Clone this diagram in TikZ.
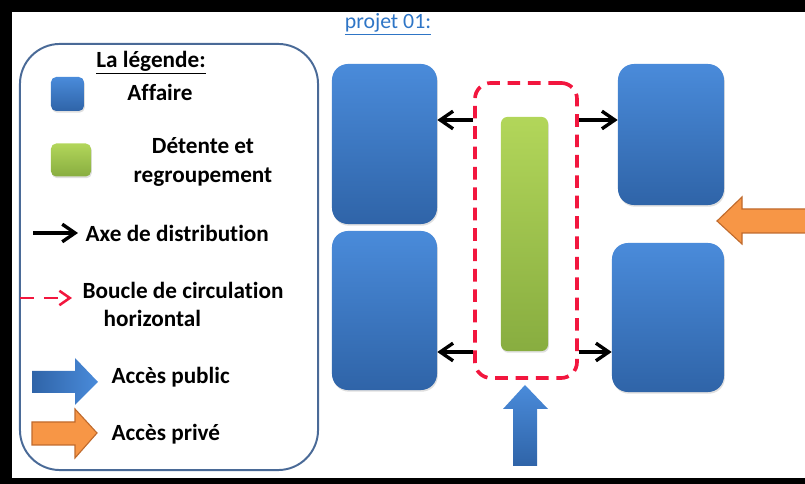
\documentclass[tikz,border=0pt]{standalone}
\usepackage{fontspec}
\setmainfont{Carlito}[Ligatures={NoCommon}]
\usetikzlibrary{arrows.meta,positioning,shadows}
\definecolor{affairetop}{HTML}{4A8BDA}
\definecolor{affairebot}{HTML}{2F64A8}
\definecolor{detentetop}{HTML}{B2D65A}
\definecolor{detentebot}{HTML}{88AD40}
\definecolor{boucle}{HTML}{F2163E}
\definecolor{prive}{HTML}{F79646}
\definecolor{privebord}{HTML}{C06A2C}
\definecolor{cadre}{HTML}{4A6A97}
\definecolor{lien}{HTML}{2E75C6}

\begin{document}
\begin{tikzpicture}[x=0.025cm,y=-0.025cm,
  affaire/.style={draw=none,inner sep=0pt,rounded corners=4mm,
    top color=affairetop,bottom color=affairebot,
    drop shadow={shadow xshift=0.6pt,shadow yshift=-1.2pt,opacity=0.25}},
  detente/.style={draw=none,inner sep=0pt,rounded corners=1.6mm,
    top color=detentetop,bottom color=detentebot,
    drop shadow={shadow xshift=0.6pt,shadow yshift=-1.2pt,opacity=0.25}},
  txt/.style={font=\fontsize{16.5}{20.5}\selectfont\bfseries,inner sep=1pt},
  axe/.style={line width=2.6pt,-{Straight Barb[length=3.2mm,width=4.4mm,line width=2.4pt]}},
  circ/.style={boucle,line width=2.6pt,dash pattern=on 9pt off 5.5pt}]
  \useasboundingbox (0,0) rectangle (805,484);
  \clip (0,0) rectangle (805,484);
  % cadre noir
  \fill[black] (0,0) rectangle (805,12);
  \fill[black] (0,0) rectangle (12,484);
  \fill[black] (0,478) rectangle (805,484);
  \node[font=\fontsize{15.5}{18}\selectfont,text=lien] (titre) at (388,24) {\underline{projet 01:}};

  % legende
  \node[draw=cadre,line width=1.4pt,rounded corners=1cm,minimum width=7.45cm,
    minimum height=10.65cm] (legende) at (169,257) {};
  \node[txt] (ltitre) at (151,63) {\underline{La légende:}};
  \node[affaire,rounded corners=1.3mm,minimum width=0.825cm,minimum height=0.85cm] (laffaire) at (67.5,94) {};
  \node[txt] (taffaire) at (160,92) {Affaire};
  \node[detente,rounded corners=1.3mm,minimum width=1cm,minimum height=0.825cm] (ldetente) at (71,160) {};
  \node[txt,align=center] (tdetente) at (203,162) {Détente et\\regroupement};
  \coordinate (laxe) at (33,233);
  \node[txt,anchor=west] (taxe) at (84,233) {Axe de distribution};
  \draw[axe,shorten >=0.15cm] (laxe) -- (taxe.west);
  \coordinate (lcirc) at (20,298);
  \coordinate (lcircb) at (72,298);
  \draw[circ,line width=2pt,dash pattern=on 10pt off 7pt,
    -{Straight Barb[length=2.6mm,width=3.6mm,line width=1.8pt]}] (lcirc) -- (lcircb);
  \node[txt,anchor=west] (tcirc) at (81,290) {Boucle de circulation};
  \node[txt,anchor=west] (tcirc2) at (102,318) {horizontal};
  \shade[left color=affairebot,right color=affairetop]
    (32,371) -- (75,371) -- (75,358) -- (98,382) -- (75,405) -- (75,393) -- (32,393) -- cycle;
  \node[txt,anchor=west] (tpublic) at (110,377) {Accès public};
  \filldraw[fill=prive,draw=privebord,line width=0.8pt]
    (32,422) -- (75,422) -- (75,409) -- (97,433) -- (75,458) -- (75,445) -- (32,445) -- cycle;
  \node[txt,anchor=west] (tprive) at (110,434) {Accès privé};

  % plan
  \node[affaire,minimum width=2.625cm,minimum height=4cm] (bureau1) at (384.5,144) {};
  \node[affaire,minimum width=2.625cm,minimum height=3.975cm] (bureau2) at (384.5,310.5) {};
  \node[affaire,minimum width=2.65cm,minimum height=3.525cm] (bureau3) at (671,134.5) {};
  \node[affaire,minimum width=2.8cm,minimum height=3.725cm] (bureau4) at (668,317.5) {};
  \node[draw,circ,rounded corners=4mm,minimum width=2.55cm,minimum height=7.375cm] (boucle) at (526,230.5) {};
  \node[detente,minimum width=1.175cm,minimum height=5.85cm] (detente) at (524.5,234) {};
  \coordinate (haut) at (0,120);
  \coordinate (bas) at (0,352);
  \draw[axe] (boucle.west |- haut) -- (bureau1.east |- haut);
  \draw[axe] (boucle.east |- haut) -- (bureau3.west |- haut);
  \draw[axe] (boucle.west |- bas) -- (bureau2.east |- bas);
  \draw[axe] (boucle.east |- bas) -- (bureau4.west |- bas);
  % acces
  \shade[top color=affairetop,bottom color=affairebot]
    (513,466) -- (537,466) -- (537,409) -- (548,409) -- (525,385) -- (503,409) -- (513,409) -- cycle;
  \filldraw[fill=prive,draw=privebord,line width=0.8pt]
    (812,209) -- (742,209) -- (742,197) -- (717,221) -- (742,244) -- (742,233) -- (812,233) -- cycle;
\end{tikzpicture}
\end{document}
